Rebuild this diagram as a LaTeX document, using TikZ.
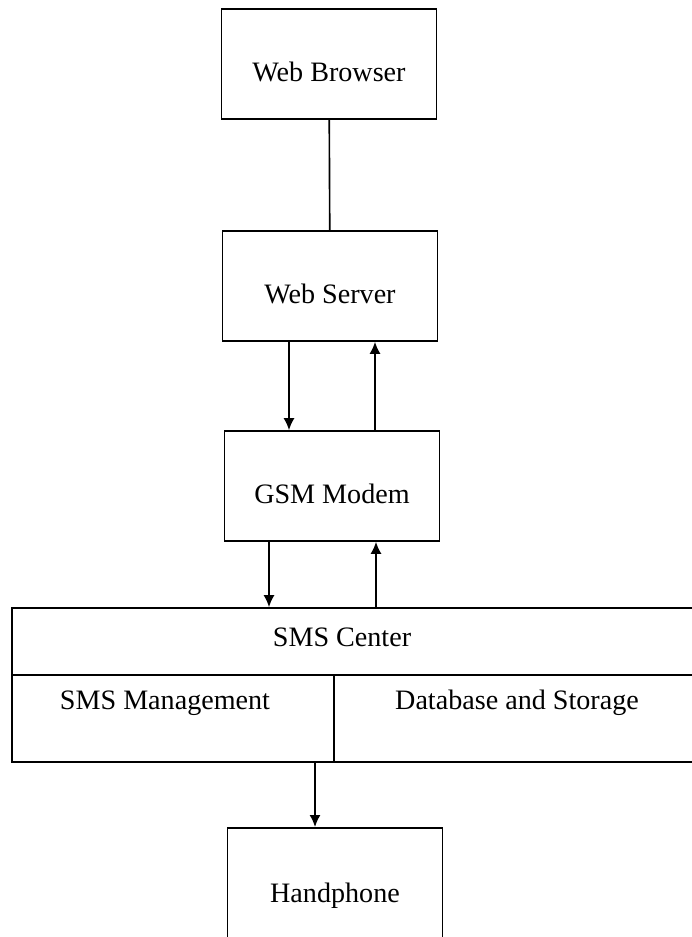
\documentclass[tikz,border=0pt]{standalone}
\usepackage{fontspec}
\setmainfont{Liberation Serif}
\usetikzlibrary{arrows.meta}
\begin{document}
\begin{tikzpicture}[x=0.03cm, y=-0.03cm, >={Latex[length=0.36cm, width=0.33cm]}, line width=1.4pt,
	box/.style={draw, rectangle, minimum width=6.45cm, minimum height=3.3cm,
		inner sep=0pt, text height=30pt, text depth=0pt,
		font=\fontsize{24}{28}\selectfont},
	cell/.style={draw, rectangle, inner sep=0pt},
	txt/.style={inner sep=0pt, font=\fontsize{24}{28}\selectfont}]
	\useasboundingbox (0,0) rectangle (691,937);
	\node [box] (wb) at (329,64) {Web Browser};
	\node [box] (ws) at (330,286) {Web Server};
	\node [box] (gsm) at (332,486) {GSM Modem};
	\node [box, minimum height=3.4cm] (hp) at (335,884.5) {Handphone};
	% SMS center and its two parts
	\node [cell, minimum width=20.64cm, minimum height=2.01cm] (sms) at (356,641.5) {};
	\node [cell, minimum width=9.66cm, minimum height=2.61cm] (mgmt) at (173,718.5) {};
	\node [cell, minimum width=10.98cm, minimum height=2.61cm] (db) at (517,718.5) {};
	\node [txt] (smst) at (342,637) {SMS Center};
	\node [txt] (mgmtt) at (165,703) {SMS Management};
	\node [txt] (dbt) at (517,703) {Database and Storage};
	\coordinate (a1) at (289,0);
	\coordinate (a2) at (375,0);
	\coordinate (a3) at (269,0);
	\coordinate (a4) at (376,0);
	\coordinate (a5) at (315,0);
	\draw (wb) -- (ws);
	\draw [->] (ws.south -| a1) -- (gsm.north -| a1);
	\draw [->] (gsm.north -| a2) -- (ws.south -| a2);
	\draw [->] (gsm.south -| a3) -- (sms.north -| a3);
	\draw [->] (sms.north -| a4) -- (gsm.south -| a4);
	\draw [->] (mgmt.south -| a5) -- (hp.north -| a5);
\end{tikzpicture}
\end{document}
